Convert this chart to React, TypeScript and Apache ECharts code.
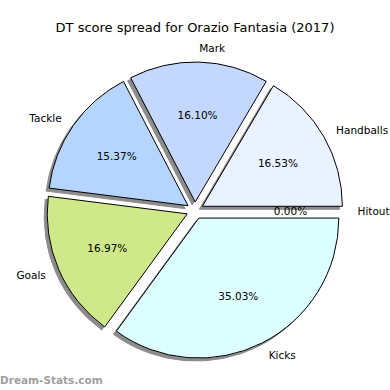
import React, { useEffect, useRef } from "react";
import * as echarts from "echarts";

const categories = ["Handballs", "Mark", "Tackle", "Goals", "Kicks", "Hitout"];
const values = [16.53, 16.1, 15.37, 16.97, 35.03, 0.0];
const colors = ["#eaf1ff", "#c4d8ff", "#b5d5ff", "#cfe98a", "#dcffff", "#ffffff"];
const titleText = "DT score spread for Orazio Fantasia (2017)";
const watermark = "Dream-Stats.com";

const R = 140;
const CX = 195;
const CY = 210.5;
const OFFSET = 8.5;

export default function App() {
  const ref = useRef<HTMLDivElement>(null);
  useEffect(() => {
    if (!ref.current) return;
    const chart = echarts.init(ref.current, undefined, { renderer: "svg" });
    const font = "DejaVu Sans";
    const outerData = categories.map((c, i) => ({
      name: c,
      value: values[i],
      selected: true,
      itemStyle: { color: colors[i] },
    }));
    const innerData = categories.map((c, i) => ({
      name: c,
      value: values[i],
      selected: true,
    }));
    chart.setOption({
      animation: false,
      title: {
        text: titleText,
        left: "center",
        top: 16,
        textStyle: { fontFamily: font, fontSize: 13, fontWeight: "normal", color: "#000" },
      },
      graphic: [
        {
          type: "text",
          left: 0,
          top: 374,
          style: {
            text: watermark,
            fontFamily: font,
            fontSize: 10.5,
            fontWeight: "bold",
            fill: "#a0a0a0",
          },
        },
      ],
      series: [
        {
          type: "pie",
          center: [CX, CY],
          radius: [0, R],
          startAngle: 0,
          clockwise: false,
          sort: false,
          selectedMode: "multiple",
          selectedOffset: OFFSET,
          avoidLabelOverlap: false,
          stillShowZeroSum: true,
          minShowLabelAngle: 0,
          silent: true,
          itemStyle: {
            borderColor: "#000",
            borderWidth: 1,
            shadowColor: "rgba(0,0,0,0.45)",
            shadowBlur: 0,
            shadowOffsetX: -3,
            shadowOffsetY: 3,
          },
          label: {
            show: true,
            position: "outside",
            formatter: "{b}",
            fontFamily: font,
            fontSize: 10.5,
            color: "#000",
            distanceToLabelLine: 0,
          },
          labelLine: { show: false, length: R * 0.1, length2: 0 },
          emphasis: { disabled: true },
          select: { itemStyle: { borderColor: "#000", borderWidth: 1 } },
          data: outerData,
        },
        {
          type: "pie",
          center: [CX, CY],
          radius: [0, R * 1.2],
          startAngle: 0,
          clockwise: false,
          sort: false,
          selectedMode: "multiple",
          selectedOffset: OFFSET,
          avoidLabelOverlap: false,
          stillShowZeroSum: true,
          minShowLabelAngle: 0,
          silent: true,
          z: 5,
          itemStyle: { color: "rgba(0,0,0,0)", borderWidth: 0 },
          label: {
            show: true,
            position: "inside",
            formatter: (p: any) => p.value.toFixed(2) + "%",
            fontFamily: font,
            fontSize: 10.5,
            color: "#000",
          },
          labelLine: { show: false },
          emphasis: { disabled: true },
          select: { itemStyle: { color: "rgba(0,0,0,0)", borderWidth: 0 } },
          data: innerData,
        },
      ],
    });
    return () => chart.dispose();
  }, []);
  return <div ref={ref} style={{ width: 390, height: 390, position: "absolute", left: 0, top: 0 }} />;
}
